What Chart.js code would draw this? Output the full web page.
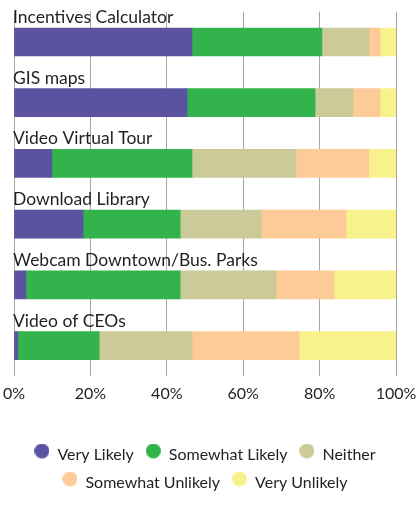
<!DOCTYPE html>
<html>
<head>
<meta charset="utf-8">
<script src="https://cdn.jsdelivr.net/npm/chart.js@4"></script>
<style>
  html, body { margin: 0; padding: 0; background: #fff; }
  #wrap { width: 418px; height: 510px; position: relative; }
</style>
</head>
<body>
<div id="wrap"><canvas id="chart"></canvas></div>
<script>
const categories = ['Incentives Calculator', 'GIS maps', 'Video Virtual Tour', 'Download Library', 'Webcam Downtown/Bus. Parks', 'Video of CEOs'];
const seriesNames = ['Very Likely', 'Somewhat Likely', 'Neither', 'Somewhat Unlikely', 'Very Unlikely'];
const veryLikely = [46.6, 45.3, 9.9, 18.1, 3.1, 1.0];
const somewhatLikely = [34.0, 33.5, 36.7, 25.4, 40.4, 21.3];
const neither = [12.3, 9.9, 27.2, 21.2, 25.1, 24.3];
const somewhatUnlikely = [2.9, 7.1, 19.1, 22.2, 15.2, 28.0];
const veryUnlikely = [4.2, 4.2, 7.1, 13.1, 16.2, 25.4];
const tickValues = [0, 20, 40, 60, 80, 100];

const colors = ['#5b52a0', '#32b34b', '#ccca98', '#fdcb98', '#f8f28c'];
const textColor = '#231f20';
const fontFamily = 'Lato, "Noto Sans", sans-serif';

const seriesData = [veryLikely, somewhatLikely, neither, somewhatUnlikely, veryUnlikely];

// legend dot sits a little higher than the text, so draw it into a small canvas
function makeDot(color) {
    const c = document.createElement('canvas');
    c.width = 15;
    c.height = 23;
    const g = c.getContext('2d');
    g.fillStyle = color;
    g.beginPath();
    g.arc(7.5, 7.5, 7.5, 0, Math.PI * 2);
    g.fill();
    return c;
}

// category names sit above each bar instead of on a y axis
const labelsAbove = {
    id: 'labelsAbove',
    afterDatasetsDraw(c) {
        const ctx = c.ctx;
        const y = c.scales.y;
        const x = c.scales.x;
        ctx.save();
        ctx.font = '17.5px ' + fontFamily;
        ctx.fillStyle = textColor;
        ctx.textAlign = 'left';
        ctx.textBaseline = 'alphabetic';
        categories.forEach((name, i) => {
            ctx.fillText(name, x.left - 1, y.getPixelForValue(i) - 14 - 5);
        });
        ctx.restore();
    }
};

chart = new Chart(document.getElementById('chart'), {
    type: 'bar',
    data: {
        labels: categories,
        datasets: seriesData.map((d, i) => ({
            label: seriesNames[i],
            data: d,
            backgroundColor: colors[i],
            borderWidth: 0,
            barThickness: 28
        }))
    },
    options: {
        indexAxis: 'y',
        responsive: true,
        maintainAspectRatio: false,
        animation: false,
        layout: { padding: { top: 11.6, left: 14, right: 22, bottom: 9 } },
        plugins: {
            tooltip: { enabled: false },
            legend: {
                position: 'bottom',
                labels: {
                    usePointStyle: true,
                    pointStyleWidth: 15,
                    boxHeight: 12,
                    padding: 12,
                    color: textColor,
                    font: { family: fontFamily, size: 16 },
                    generateLabels: (c) => Chart.defaults.plugins.legend.labels.generateLabels(c)
                        .map((item, i) => Object.assign(item, { pointStyle: makeDot(colors[i]) }))
                }
            }
        },
        scales: {
            x: {
                stacked: true,
                min: 0,
                max: 100,
                afterBuildTicks: (s) => { s.ticks = tickValues.map(v => ({ value: v })); },
                afterFit: (s) => {
                    s.height = 59;
                    s.paddingLeft = 0;
                    s.paddingRight = 0;
                },
                grid: { color: '#a8a8a8', lineWidth: 1, drawTicks: false },
                border: { display: false },
                ticks: {
                    padding: 8,
                    color: textColor,
                    font: { family: fontFamily, size: 16 },
                    callback: (v) => v + '%'
                }
            },
            y: {
                stacked: true,
                display: false
            }
        }
    },
    plugins: [labelsAbove]
});
</script>
</body>
</html>
